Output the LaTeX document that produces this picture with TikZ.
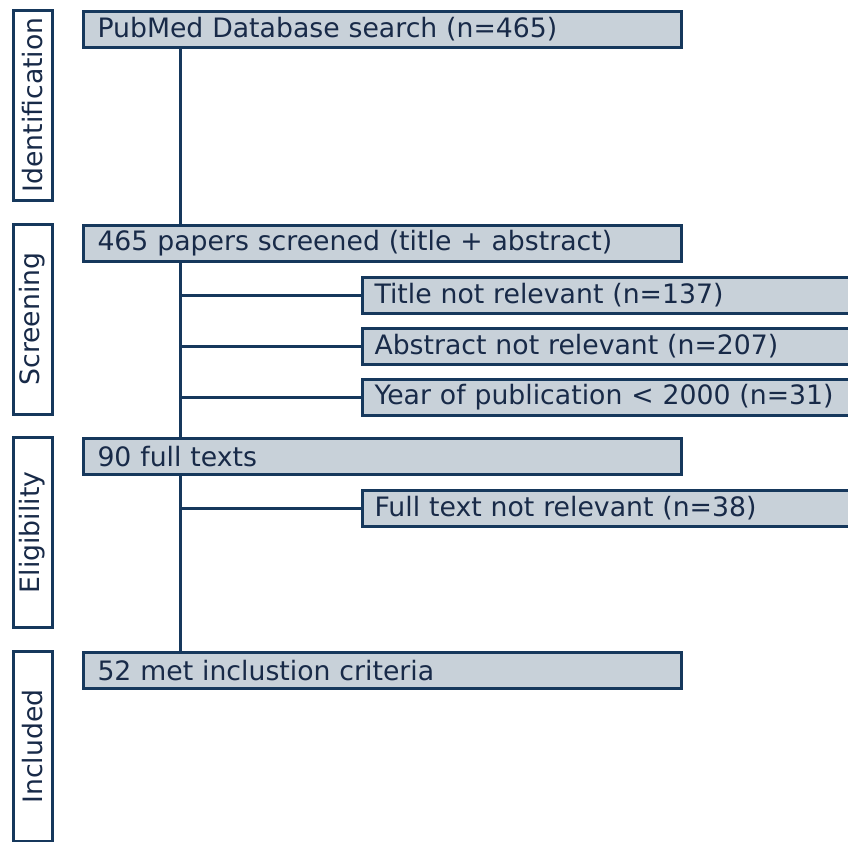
\documentclass[tikz,border=0pt]{standalone}
\usepackage{fontspec}
\setmainfont{DejaVu Sans}
\definecolor{edge}{RGB}{22,56,92}
\definecolor{ink}{RGB}{24,42,72}
\definecolor{boxfill}{RGB}{200,209,217}
\tikzset{
  stagebox/.style={draw=edge, line width=3pt, fill=white, rotate=90,
    minimum width=190pt, minimum height=39pt, inner sep=0pt,
    font=\fontsize{26.7}{30}\selectfont, text=ink},
  mainbox/.style={draw=edge, line width=3pt, fill=boxfill, anchor=north west,
    minimum height=36pt, inner xsep=14pt, inner ysep=0pt, text width=570pt,
    align=left, font=\fontsize{26.7}{30}\selectfont, text=ink},
  sidebox/.style={mainbox, inner xsep=12pt, text width=560pt},
  link/.style={draw=edge, line width=3pt}
}
\begin{document}
\begin{tikzpicture}[x=1pt, y=-1pt]
\useasboundingbox (0,0) rectangle (848,841);
\begin{scope}
\clip (0,0) rectangle (848,841);
% stage labels on the left
\node[stagebox] (sid) at (32.5,105) {Identification};
\node[stagebox] (ssc) at (32.5,319) {Screening};
\node[stagebox] (sel) at (32.5,532.5) {Eligibility};
\node[stagebox] (sin) at (32.5,746.5) {Included};
% main flow
\node[mainbox] (search) at (82,10) {PubMed Database search (n=465)};
\node[mainbox] (screen) at (82,224) {465 papers screened (title + abstract)};
\node[mainbox] (full) at (82,437) {90 full texts};
\node[mainbox] (incl) at (82,651) {52 met inclustion criteria};
% exclusions
\node[sidebox] (ex1) at (361,276) {Title not relevant (n=137)};
\node[sidebox] (ex2) at (361,327) {Abstract not relevant (n=207)};
\node[sidebox] (ex3) at (361,378) {Year of publication < 2000 (n=31)};
\node[sidebox] (ex4) at (361,489) {Full text not relevant (n=38)};
% trunk
\draw[link] (180,0 |- search.south) -- (180,0 |- screen.north);
\draw[link] (180,0 |- screen.south) -- (180,0 |- full.north);
\draw[link] (180,0 |- full.south) -- (180,0 |- incl.north);
% branches
\foreach \e in {ex1,ex2,ex3,ex4}
  \draw[link] (180,0 |- \e.west) -- (\e.west);
\end{scope}
\end{tikzpicture}
\end{document}
